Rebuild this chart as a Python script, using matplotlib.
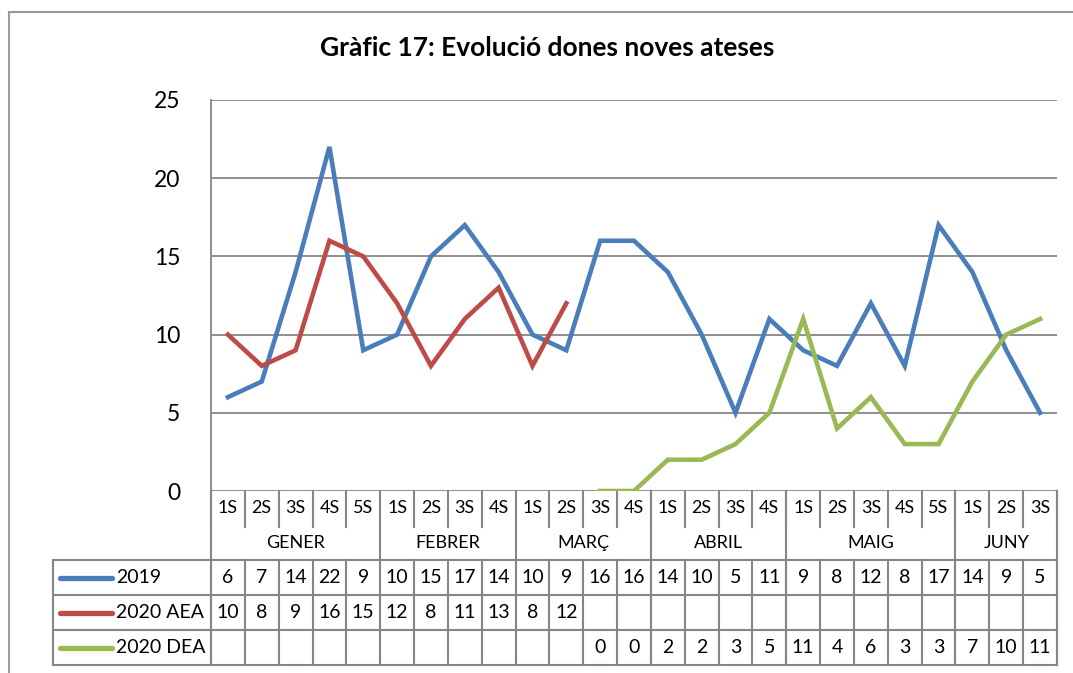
import numpy as np
import matplotlib
matplotlib.use("Agg")
import matplotlib.pyplot as plt
from matplotlib.lines import Line2D
from matplotlib.transforms import blended_transform_factory

plt.rcParams['font.family'] = ['Lato', 'DejaVu Sans']

# data
weeks = ['1S', '2S', '3S', '4S', '5S',
         '1S', '2S', '3S', '4S',
         '1S', '2S', '3S', '4S',
         '1S', '2S', '3S', '4S',
         '1S', '2S', '3S', '4S', '5S',
         '1S', '2S', '3S']
months = ['GENER', 'FEBRER', 'MARÇ', 'ABRIL', 'MAIG', 'JUNY']
month_len = [5, 4, 4, 4, 5, 3]
s2019 = [6, 7, 14, 22, 9, 10, 15, 17, 14, 10, 9, 16, 16, 14, 10, 5, 11, 9, 8, 12, 8, 17, 14, 9, 5]
aea2020 = [10, 8, 9, 16, 15, 12, 8, 11, 13, 8, 12] + [None] * 14
dea2020 = [None] * 11 + [0, 0, 2, 2, 3, 5, 11, 4, 6, 3, 3, 7, 10, 11]

series = [('2019', s2019, '#4A7EBB'),
          ('2020 AEA', aea2020, '#BE4B48'),
          ('2020 DEA', dea2020, '#98B954')]

W, H = 1073, 673
fig = plt.figure(figsize=(W / 100, H / 100), dpi=100)
# plot area in pixels: x 211..1057, y 100..491
px_l, px_r, px_t, px_b = 211, 1057, 100, 491
ax = fig.add_axes([px_l / W, 1 - px_b / H, (px_r - px_l) / W, (px_b - px_t) / H])

x = np.arange(len(weeks))
for name, vals, col in series:
    y = np.array([np.nan if v is None else v for v in vals], dtype=float)
    ax.plot(x, y, color=col, lw=3.3, solid_joinstyle='miter', zorder=3)

ax.set_xlim(-0.5, len(weeks) - 0.5)
ax.set_ylim(0, 25)
ax.set_yticks([0, 5, 10, 15, 20, 25])
ax.set_xticks([])
ax.grid(axis='y', color='#868686', lw=1.3)
ax.set_axisbelow(True)
for s in ['top', 'right', 'bottom']:
    ax.spines[s].set_visible(False)
ax.spines['left'].set_color('#868686')
ax.spines['left'].set_linewidth(1.3)
ax.tick_params(axis='y', length=0, labelsize=16.5, pad=22)

fig.text(547 / W, 1 - 48 / H, 'Gràfic 17: Evolució dones noves ateses',
         ha='center', va='center', fontsize=19, fontweight='bold')

# data table below the plot
tr = blended_transform_factory(ax.transData, ax.transAxes)
ftr = blended_transform_factory(fig.transFigure, ax.transAxes)
ph = px_b - px_t

def ya(p):
    return (px_b - p) / ph

gcol = '#868686'
rows = [560, 595, 630, 665]

def line(xs, ys, transform):
    ax.add_line(Line2D(xs, ys, transform=transform, color=gcol, lw=1.5, clip_on=False))

edges = np.arange(len(weeks) + 1) - 0.5
month_edges = np.concatenate([[0], np.cumsum(month_len)]) - 0.5
for e in edges:
    line([e, e], [ya(491), ya(527)], tr)
    line([e, e], [ya(560), ya(665)], tr)
for e in month_edges:
    line([e, e], [ya(491), ya(665)], tr)
for r in rows:
    line([53 / W, px_r / W], [ya(r), ya(r)], ftr)
line([53 / W, 53 / W], [ya(560), ya(665)], ftr)

for i, w in enumerate(weeks):
    ax.text(i, ya(508), w, transform=tr, ha='center', va='center', fontsize=13)
for m, a, b in zip(months, month_edges[:-1], month_edges[1:]):
    ax.text((a + b) / 2, ya(543), m, transform=tr, ha='center', va='center', fontsize=13)

for k, (name, vals, col) in enumerate(series):
    top, bot = rows[k], rows[k + 1]
    mid = ya((top + bot) / 2)
    ax.add_line(Line2D([60 / W, 112 / W], [mid, mid], transform=ftr, color=col,
                       lw=3.8, solid_capstyle='round', clip_on=False))
    ax.text(116 / W, mid, name, transform=ftr, ha='left', va='center', fontsize=14)
    for i, v in enumerate(vals):
        if v is not None:
            ax.text(i, mid, str(v), transform=tr, ha='center', va='center', fontsize=14)

# outer chart border
fig.add_artist(Line2D([9 / W, 9 / W], [1 - 12 / H, 0], transform=fig.transFigure,
                      color='#9a9a9a', lw=1.5))
fig.add_artist(Line2D([9 / W, 1], [1 - 12 / H, 1 - 12 / H], transform=fig.transFigure,
                      color='#9a9a9a', lw=1.5))

fig.savefig('out.png', dpi=100)
